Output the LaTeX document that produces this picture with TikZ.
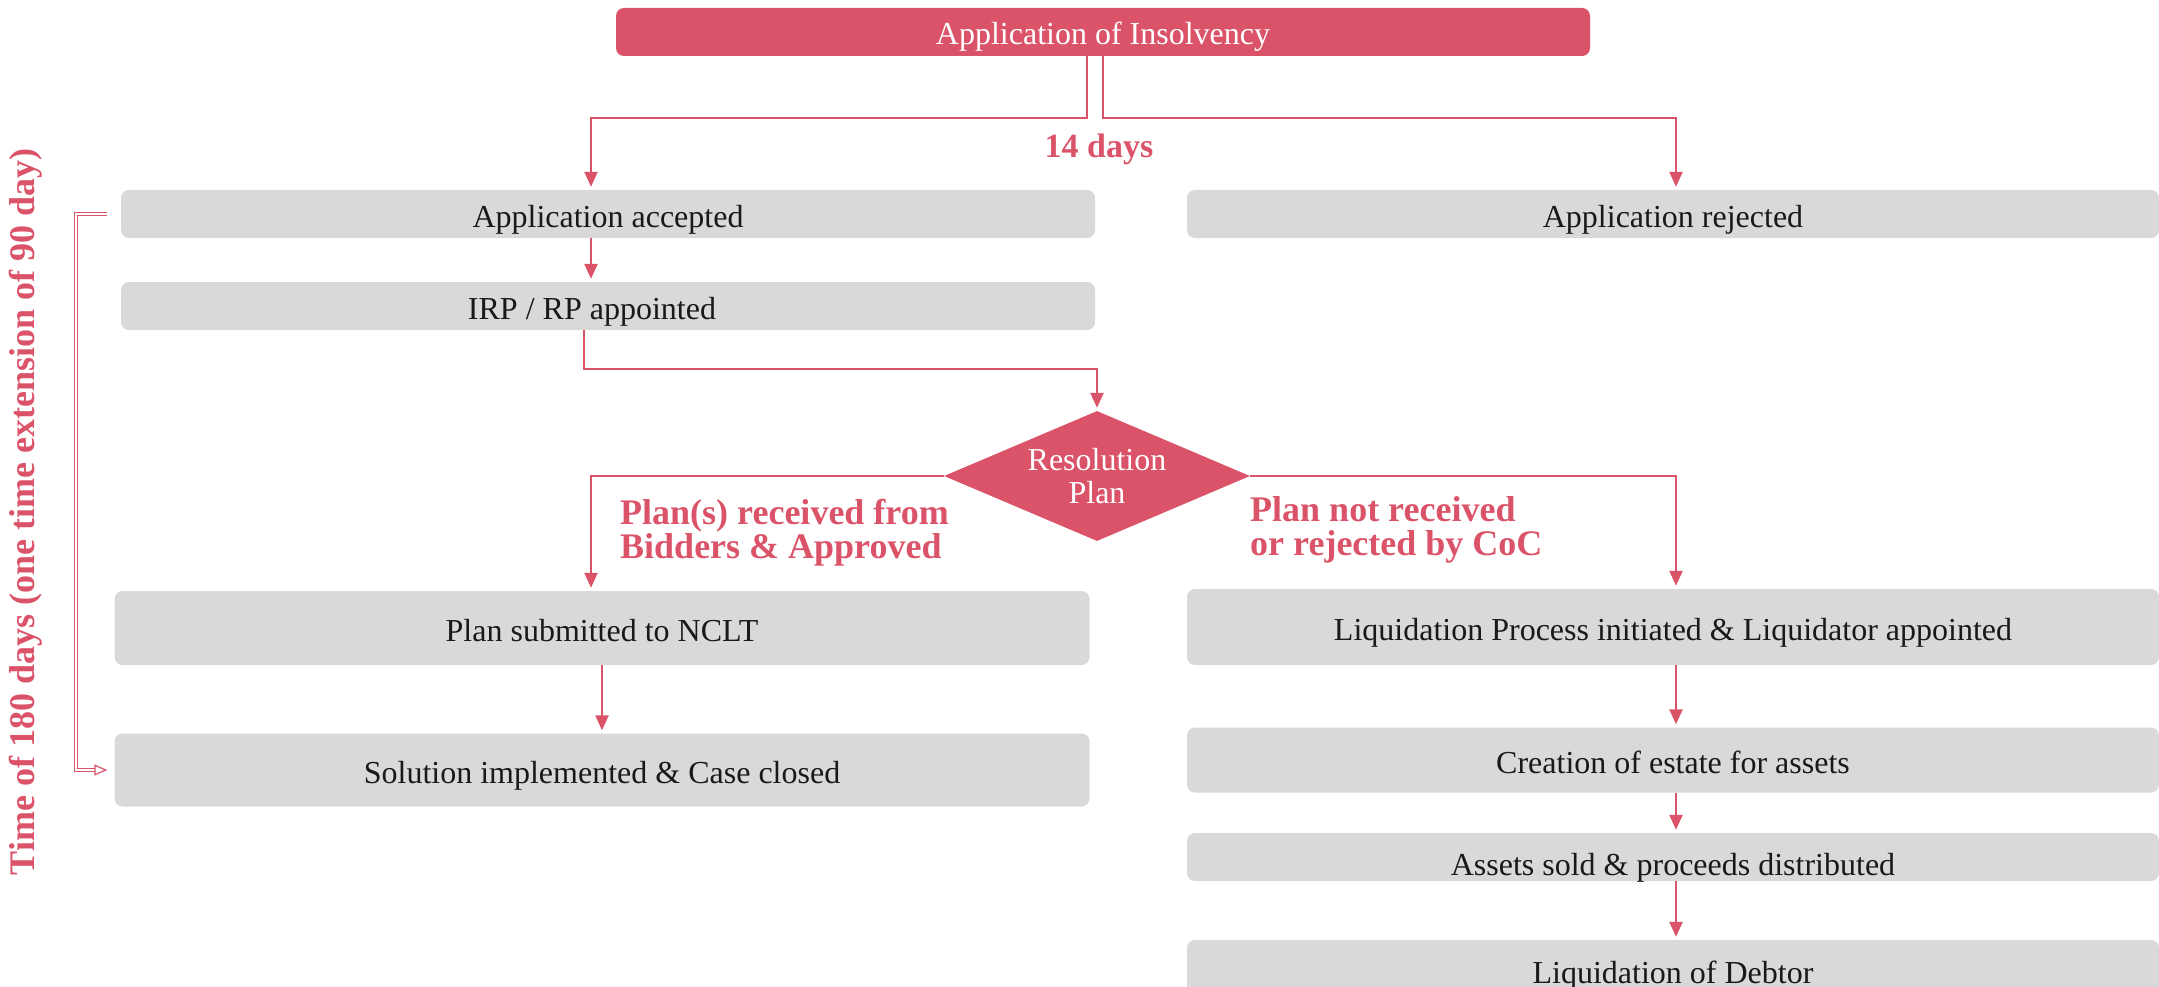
\documentclass[tikz,border=0pt]{standalone}
\usepackage{fontspec}
\setmainfont{Liberation Serif}
\usetikzlibrary{arrows.meta,shapes.geometric}
\definecolor{rose}{HTML}{DB5369}
\definecolor{panel}{HTML}{D9D9D9}
\tikzset{
  boxtxt/.style={font=\fontsize{32}{34}\selectfont, text height=28pt, text depth=2pt},
  greybox/.style={boxtxt, fill=panel, rounded corners=8pt, inner sep=0pt, text=black!90},
  rosebox/.style={boxtxt, fill=rose, rounded corners=8pt, inner sep=0pt, text=white},
  decision/.style={font=\fontsize{32}{33}\selectfont, diamond, fill=rose, text=white, inner sep=0pt, align=center},
  steplabel/.style={font=\bfseries\fontsize{36}{34}\selectfont, text=rose, align=left, inner sep=0pt},
  arr/.style={draw=rose, line width=2.4pt, -{Triangle[length=15pt,width=13pt]}, shorten >=3pt},
  brk/.style={draw=rose, line width=1.2pt, double=white, double distance=1.6pt, -{Triangle[open,length=13pt,width=11pt,fill=white]}}
}
\begin{document}
\begin{tikzpicture}[x=1pt,y=-1pt]
\useasboundingbox (0,0) rectangle (2159,987);

% boxes
\node[rosebox, minimum width=974pt, minimum height=48pt] (top) at (1103,32) {Application of Insolvency};
\node[greybox, minimum width=974pt, minimum height=48pt] (acc) at (608,214) {Application accepted};
\node[greybox, minimum width=972pt, minimum height=48pt] (rej) at (1673,214) {Application rejected};
\node[greybox, minimum width=974pt, minimum height=48pt] (irp) at (608,306) {IRP / RP appointed\hspace*{32pt}};
\node[decision, minimum width=306pt, minimum height=130pt, aspect=2.35] (dia) at (1097,476) {Resolution\\Plan};
\node[greybox, minimum width=975pt, minimum height=74pt] (nclt) at (602,628) {Plan submitted to NCLT};
\node[greybox, minimum width=975pt, minimum height=73pt] (sol) at (602,770) {Solution implemented \& Case closed};
\node[greybox, minimum width=972pt, minimum height=76pt] (liq) at (1673,627) {Liquidation Process initiated \& Liquidator appointed};
\node[greybox, minimum width=972pt, minimum height=65pt] (est) at (1673,760) {Creation of estate for assets};
\node[greybox, minimum width=972pt, minimum height=48pt, text height=39pt, text depth=2pt] (sold) at (1673,857) {Assets sold \& proceeds distributed};
\node[greybox, minimum width=972pt, minimum height=60pt] (debt) at (1673,970) {Liquidation of Debtor};

% labels
\node[steplabel, font=\bfseries\fontsize{34}{34}\selectfont] (days) at (1099,149) {14 days};
\node[steplabel, anchor=west] (yes) at (620,533) {Plan(s) received from\\Bidders \& Approved};
\node[steplabel, anchor=west] (no) at (1250,530) {Plan not received\\or rejected by CoC};
\node[steplabel, rotate=90] (time) at (26,512) {Time of 180 days (one time extension of 90 day)};

% junction points
\coordinate (jL) at (1087,118);
\coordinate (jR) at (1103,118);
\coordinate (kL) at (591,118);
\coordinate (kR) at (1676,118);
\coordinate (m1) at (584,369);
\coordinate (bx) at (76,500);

% connectors
\draw[arr] (top.south -| jL) -- (jL) -- (kL) -- (acc.north -| kL);
\draw[arr] (top.south -| jR) -- (jR) -- (kR) -- (rej.north -| kR);
\draw[arr] (acc.south -| kL) -- (irp.north -| kL);
\draw[arr] (irp.south -| m1) -- (m1) -| (dia.north);
\draw[arr] (dia.west) -| (nclt.north -| kL);
\draw[arr] (dia.east) -| (liq.north -| kR);
\draw[arr] (nclt.south) -- (sol.north);
\draw[arr] (liq.south -| kR) -- (est.north -| kR);
\draw[arr] (est.south -| kR) -- (sold.north -| kR);
\draw[arr] (sold.south -| kR) -- (debt.north -| kR);

% time bracket
\draw[brk] ([xshift=-14pt]acc.west) -- (acc.west -| bx) -- (sol.west -| bx) -- ([xshift=-7pt]sol.west);
\end{tikzpicture}
\end{document}
